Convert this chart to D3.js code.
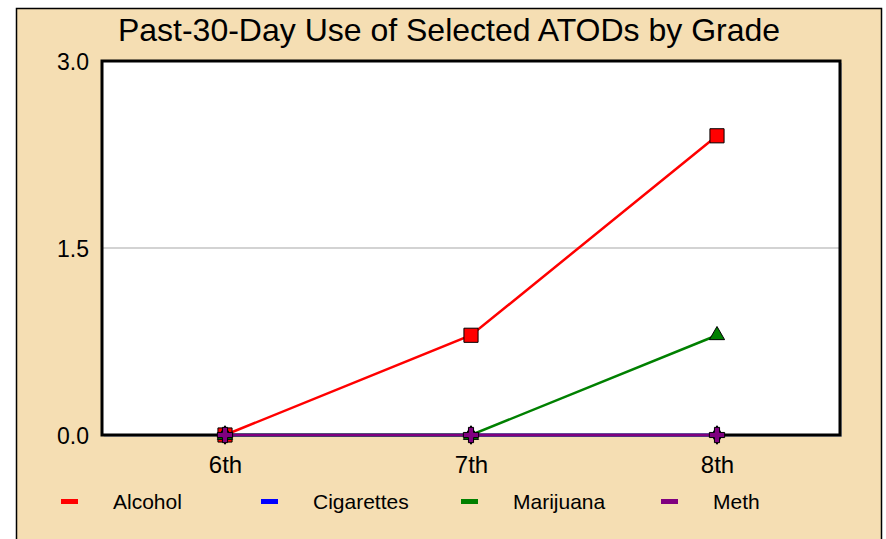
<html><head>
<title>Past-30-Day Use of Selected ATODs by Grade</title>
<style>
body { margin: 0; background: #fff; }
svg { display: block; font-family: "Liberation Sans", Arial, sans-serif; }
</style>
<script src="https://cdnjs.cloudflare.com/ajax/libs/d3/7.8.5/d3.min.js"></script>
</head>
<body>
<div id="chart"></div>
<script>
// data
const grades = ["6th", "7th", "8th"];
const seriesNames = ["Alcohol", "Cigarettes", "Marijuana", "Meth"];
const seriesColors = ["#ff0000", "#0000ff", "#008000", "#800080"];
const alcohol = [0, 0.8, 2.4];
const cigarettes = [0, 0, 0];
const marijuana = [0, 0, 0.8];
const meth = [0, 0, 0];
const yTicks = [0, 1.5, 3.0];

const series = [
  {name: "Alcohol", values: alcohol, symbol: d3.symbolSquare},
  {name: "Cigarettes", values: cigarettes, symbol: d3.symbolDiamond},
  {name: "Marijuana", values: marijuana, symbol: d3.symbolTriangle},
  {name: "Meth", values: meth, symbol: d3.symbolCross}
];

const W = 886, H = 539;
const plot = {left: 102, top: 61, right: 840, bottom: 435};

const svg = d3.select("#chart").append("svg")
  .attr("width", W)
  .attr("height", H);

// beige panel
svg.append("rect")
  .attr("x", 16.5).attr("y", 8.5)
  .attr("width", 865).attr("height", 560)
  .attr("fill", "#f5deb3")
  .attr("stroke", "#000")
  .attr("stroke-width", 1.5);

svg.append("text")
  .attr("x", 449).attr("y", 41)
  .attr("text-anchor", "middle")
  .attr("font-size", 32)
  .attr("fill", "#000")
  .text("Past-30-Day Use of Selected ATODs by Grade");

const x = d3.scalePoint()
  .domain(grades)
  .range([plot.left, plot.right])
  .padding(0.5);

const y = d3.scaleLinear()
  .domain([0, 3])
  .range([plot.bottom, plot.top]);

// plot background + faint shadow
svg.append("rect")
  .attr("x", plot.left + 2).attr("y", plot.top + 2)
  .attr("width", plot.right - plot.left).attr("height", plot.bottom - plot.top)
  .attr("fill", "#bbb");
svg.append("rect")
  .attr("x", plot.left).attr("y", plot.top)
  .attr("width", plot.right - plot.left).attr("height", plot.bottom - plot.top)
  .attr("fill", "#fff");

// gridline at middle tick
svg.selectAll(".grid")
  .data(yTicks.filter(d => d > 0 && d < 3))
  .join("line")
  .attr("x1", plot.left).attr("x2", plot.right)
  .attr("y1", d => y(d)).attr("y2", d => y(d))
  .attr("stroke", "#d3d3d3")
  .attr("stroke-width", 2);

// frame
svg.append("path")
  .attr("d", `M${plot.left},${plot.bottom} V${plot.top} H${plot.right} V${plot.bottom} Z`)
  .attr("fill", "none")
  .attr("stroke", "#000")
  .attr("stroke-width", 3);

// y axis labels
const yAxis = d3.axisLeft(y).tickValues(yTicks).tickFormat(d3.format(".1f")).tickSize(0).tickPadding(13);
const gy = svg.append("g").attr("transform", `translate(${plot.left},1)`).call(yAxis);
gy.select(".domain").remove();
gy.selectAll("text").attr("font-size", 23).attr("fill", "#000")
  .attr("font-family", "'Liberation Sans', Arial, sans-serif");

// x axis labels
const xAxis = d3.axisBottom(x).tickSize(0).tickPadding(21);
const gx = svg.append("g").attr("transform", `translate(0,${plot.bottom})`).call(xAxis);
gx.select(".domain").remove();
gx.selectAll("text").attr("font-size", 24).attr("fill", "#000")
  .attr("font-family", "'Liberation Sans', Arial, sans-serif");

const line = d3.line()
  .x((d, i) => x(grades[i]))
  .y(d => y(d));

// lines
series.forEach((s, k) => {
  svg.append("path")
    .attr("d", line(s.values))
    .attr("fill", "none")
    .attr("stroke", seriesColors[k])
    .attr("stroke-width", 2.5);
});

// markers
const markerSize = {Alcohol: 200, Cigarettes: 100, Marijuana: 100, Meth: 130};
series.forEach((s, k) => {
  svg.append("g").selectAll("path")
    .data(s.values)
    .join("path")
    .attr("transform", (d, i) => `translate(${x(grades[i])},${y(d)})`)
    .attr("d", d3.symbol().type(s.symbol).size(markerSize[s.name]))
    .attr("fill", seriesColors[k])
    .attr("stroke", "#000")
    .attr("stroke-width", 1);
});

// legend
const legend = svg.append("g").attr("transform", "translate(61,501)");
const item = legend.selectAll("g")
  .data(seriesNames)
  .join("g")
  .attr("transform", (d, i) => `translate(${i * 200},0)`);
item.append("rect")
  .attr("x", 0).attr("y", -2)
  .attr("width", 17).attr("height", 5)
  .attr("fill", (d, i) => seriesColors[i]);
item.append("text")
  .attr("x", 52).attr("y", 8)
  .attr("font-size", 21)
  .attr("fill", "#000")
  .text(d => d);
</script>
</body>
</html>
